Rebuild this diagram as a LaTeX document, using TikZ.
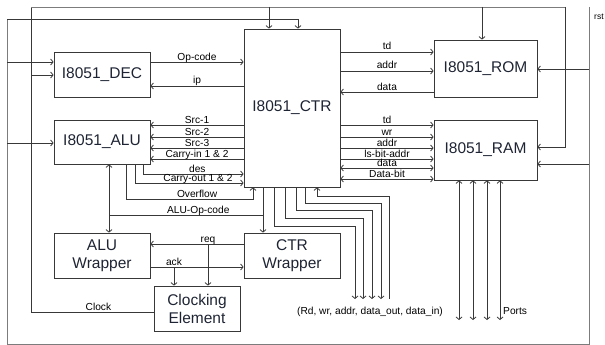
\documentclass[tikz,border=0pt]{standalone}
\usepackage{fontspec}
\setmainfont{Liberation Sans}
\usepackage{tikz}
\usetikzlibrary{arrows.meta,positioning}
\definecolor{wiregray}{HTML}{383838}
\definecolor{railgray}{HTML}{7C7C7C}
\definecolor{boxtext}{HTML}{1E2433}

\begin{document}
\begin{tikzpicture}[x=1pt, y=-1pt, >={Straight Barb[length=2.5pt,width=6pt]},
  blk/.style={draw=wiregray, line width=0.8pt, align=center, inner sep=0pt,
    text=boxtext, font=\fontsize{15.5}{18}\selectfont},
  wire/.style={draw=wiregray, line width=0.8pt},
  rail/.style={draw=railgray, line width=0.9pt},
  lbl/.style={anchor=base, yshift=2pt, inner sep=0pt, font=\fontsize{10.2}{12}\selectfont}]
  \useasboundingbox (0,0) rectangle (605,345);

  \node[blk, minimum width=96pt, minimum height=45pt] (dec) at (102,74.5) {I8051\_DEC};
  \node[blk, minimum width=96pt, minimum height=158pt] (ctr) at (292,108) {I8051\_CTR};
  \node[blk, minimum width=103pt, minimum height=57pt] (rom) at (485.5,68.5) {I8051\_ROM};
  \node[blk, minimum width=103pt, minimum height=60pt] (ram) at (485.5,150) {I8051\_RAM};
  \node[blk, minimum width=96pt, minimum height=44pt] (alu) at (102,142) {I8051\_ALU};
  \node[blk, minimum width=96pt, minimum height=45pt] (aluw) at (102,255.5) {ALU\\Wrapper};
  \node[blk, minimum width=96pt, minimum height=45pt] (ctrw) at (292,255.5) {CTR\\Wrapper};
  \node[blk, minimum width=86pt, minimum height=45pt] (clk) at (197,308.5) {Clocking\\Element};

  \draw[wire] (clk.west |- 0,312) -- node[lbl, pos=0.45] (lclock) {Clock} (31,312) -- (31,7);
  \draw[rail] (31,7) -- (565,7);
  \draw[wire,->] (565,7) -- (565,147) -- (ram.east |- 0,147);
  \draw[wire,->] (269,7) -- (ctr.north -| 269,0);
  \draw[wire,->] (482,7) -- (rom.north -| 482,0);
  \draw[wire,->] (31,75) -- (dec.west |- 0,75);

  \node[anchor=west, inner sep=0pt, font=\fontsize{8.5}{10}\selectfont] (lrst) at (594,17) {rst};
  \draw[rail] (589,7) -- (589,344) -- (7,344) -- (7,19);
  \draw[wire,->] (7,19) -- (298,19) -- (ctr.north -| 298,0);
  \draw[wire,->] (589,69) -- (rom.east |- 0,69);
  \draw[wire,->] (589,164) -- (ram.east |- 0,164);
  \draw[wire,->] (7,62) -- (dec.west |- 0,62);
  \draw[wire,->] (7,143) -- (alu.west |- 0,143);

  \draw[wire,->] (dec.east |- 0,62) -- node[lbl] (lop) {Op-code} (ctr.west |- 0,62);
  \draw[wire,->] (ctr.west |- 0,86) -- node[lbl] (lip) {ip} (dec.east |- 0,86);

  \draw[wire,->] (ctr.east |- 0,52) -- node[lbl] (ltd) {td} (rom.west |- 0,52);
  \draw[wire,->] (ctr.east |- 0,71) -- node[lbl] (laddr) {addr} (rom.west |- 0,71);
  \draw[wire,->] (rom.west |- 0,92) -- node[lbl] (ldata) {data} (ctr.east |- 0,92);

  \foreach \yy/\txt in {125/td, 137/wr, 148/addr, 159/ls-bit-addr}
    \draw[wire,->] (ctr.east |- 0,\yy) -- node[lbl] (lram\yy) {\txt} (ram.west |- 0,\yy);
  \foreach \yy/\txt in {168/data, 179/Data-bit}
    \draw[wire,<->] (ctr.east |- 0,\yy) -- node[lbl] (lram\yy) {\txt} (ram.west |- 0,\yy);

  \foreach \yy/\txt in {125/Src-1, 137/Src-2, 148/Src-3, 159/Carry-in 1 \& 2}
    \draw[wire,->] (ctr.west |- 0,\yy) -- node[lbl] (lalu\yy) {\txt} (alu.east |- 0,\yy);
  \draw[wire,->] (alu.south -| 143,0) |- node[lbl, pos=0.77] (ldes) {des} (ctr.west |- 0,174);
  \draw[wire,->] (alu.south -| 135,0) |- node[lbl, pos=0.79] (lcout) {Carry-out 1 \& 2} (ctr.west |- 0,183);
  \draw[wire,->] (alu.south -| 126,0) |- node[lbl, pos=0.78] (lovf) {Overflow} (253,199) -- (ctr.south -| 253,0);

  \draw[wire,->] (ctr.south -| 263,0) -- (ctrw.north -| 263,0);
  \draw[wire] (263,215) -- node[lbl, pos=0.42] (laluop) {ALU-Op-code} (109,215);
  \draw[wire,->] (109,215) -- (alu.south -| 109,0);
  \draw[wire,->] (109,215) -- (aluw.north -| 109,0);

  \draw[wire,->] (ctrw.west |- 0,244) -- (aluw.east |- 0,244);
  \draw[wire,->] (aluw.east |- 0,267) -- (ctrw.west |- 0,267);
  \draw[wire,->] (208,244) node[lbl] (lreq) {req} -- (clk.north -| 208,0);
  \draw[wire,->] (174,267) node[lbl] (lack) {ack} -- (clk.north -| 174,0);

  \foreach \xa/\xb/\yy in {274/355/226, 285/363/218, 296/372/210, 305/381/203}
    \draw[wire,->] (ctr.south -| \xa,0) |- (\xb,\yy) -- (\xb,299);
  \draw[wire,->] (389,299) -- (389,196) -| (ctr.south -| 317,0);
  \node[inner sep=0pt, font=\fontsize{10.2}{12}\selectfont] (lbus) at (370,312) {(Rd, wr, addr, data\_out, data\_in)};

  \foreach \xx in {459,473,487,500}
    \draw[wire,<->] (ram.south -| \xx,0) -- (\xx,320);
  \node[anchor=west, inner sep=0pt, font=\fontsize{10.2}{12}\selectfont] (lports) at (503,311) {Ports};
\end{tikzpicture}
\end{document}
